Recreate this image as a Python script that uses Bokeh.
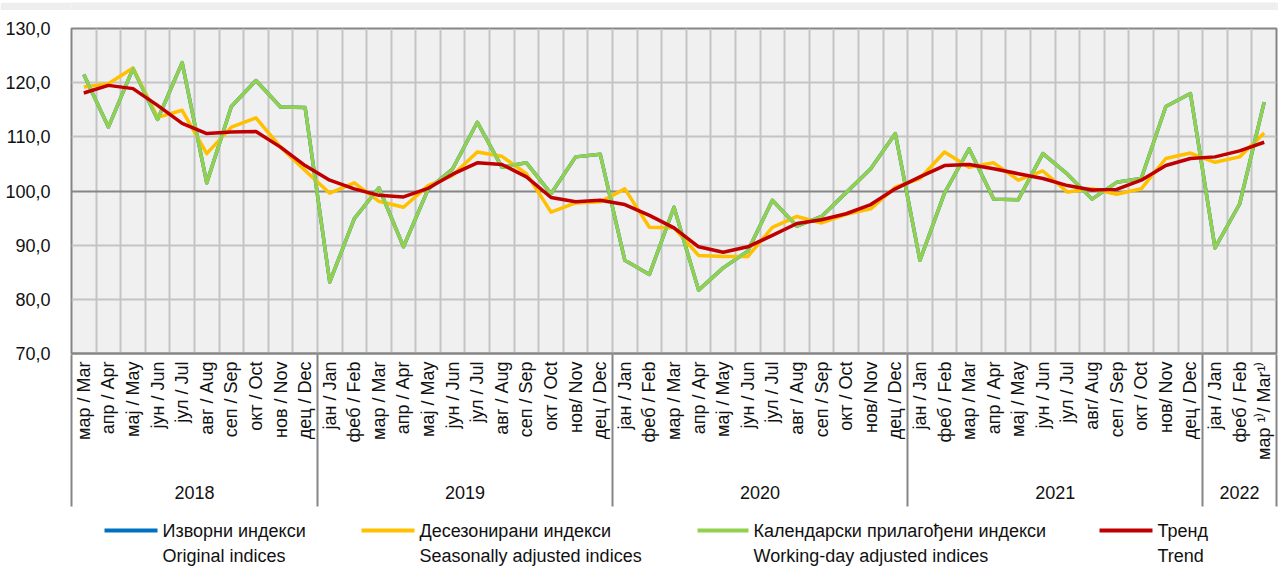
import math
from bokeh.plotting import figure
from bokeh.models import Range1d, FixedTicker, LinearAxis, Grid, ColumnDataSource
from bokeh.layouts import column
from bokeh.core.properties import value
from bokeh.embed import file_html
from bokeh.resources import INLINE

# ---------------- data ----------------
years = ["2018", "2019", "2020", "2021", "2022"]
months_per_year = [10, 12, 12, 12, 3]
month_labels = [
    "мар / Mar", "апр / Apr", "мај / May", "јун / Jun", "јул / Jul", "авг / Aug",
    "сеп / Sep", "окт / Oct", "нов / Nov", "дец / Dec",
    "јан / Jan", "феб / Feb", "мар / Mar", "апр / Apr", "мај / May", "јун / Jun",
    "јул / Jul", "авг / Aug", "сеп / Sep", "окт / Oct", "нов/ Nov", "дец / Dec",
    "јан / Jan", "феб / Feb", "мар / Mar", "апр / Apr", "мај / May", "јун / Jun",
    "јул / Jul", "авг / Aug", "сеп / Sep", "окт / Oct", "нов/ Nov", "дец / Dec",
    "јан / Jan", "феб / Feb", "мар / Mar", "апр / Apr", "мај / May", "јун / Jun",
    "јул / Jul", "авг/ Aug", "сеп / Sep", "окт / Oct", "нов/ Nov", "дец / Dec",
    "јан / Jan", "феб / Feb", "мар ¹⁾/ Mar¹⁾",
]
working_day = [
    121.5, 111.8, 122.6, 113.2, 123.7, 101.5, 115.6, 120.4, 115.5, 115.4,
    83.2, 94.9, 100.6, 89.7, 100.3, 104.1, 112.7, 104.4, 105.2, 99.5, 106.3, 106.8,
    87.2, 84.6, 97.0, 81.7, 85.8, 88.9, 98.3, 93.5, 95.3, 99.7, 104.1, 110.6,
    87.2, 99.6, 107.8, 98.5, 98.4, 106.9, 103.1, 98.5, 101.6, 102.3, 115.6, 118.0,
    89.5, 97.6, 116.4,
]
original = list(working_day)
seasonal = [
    119.2, 119.8, 122.7, 113.6, 114.9, 106.9, 111.8, 113.5, 108.1, 103.8,
    99.6, 101.5, 98.1, 97.0, 101.0, 102.9, 107.2, 106.4, 103.2, 96.1, 97.8, 98.0,
    100.4, 93.3, 93.2, 88.1, 87.9, 87.9, 93.3, 95.3, 94.1, 95.7, 96.7, 100.7,
    102.3, 107.2, 104.4, 105.2, 102.0, 103.7, 99.8, 100.4, 99.4, 100.4, 106.0, 107.0,
    105.3, 106.3, 110.7,
]
trend = [
    118.1, 119.5, 118.9, 115.8, 112.5, 110.6, 110.9, 111.0, 108.1, 104.7,
    102.0, 100.4, 99.2, 98.9, 100.5, 103.1, 105.2, 104.9, 102.6, 98.8, 98.0, 98.3,
    97.5, 95.5, 93.2, 89.7, 88.7, 89.7, 91.8, 94.0, 94.7, 95.8, 97.5, 100.4,
    102.6, 104.7, 104.9, 104.1, 103.2, 102.3, 101.0, 100.2, 100.3, 102.0, 104.7, 106.0,
    106.3, 107.4, 109.0,
]
y_ticks = [70, 80, 90, 100, 110, 120, 130]
series_names = [
    ("Изворни индекси", "Original indices"),
    ("Десезонирани индекси", "Seasonally adjusted indices"),
    ("Календарски прилагођени индекси", "Working-day adjusted indices"),
    ("Тренд", "Trend"),
]

# ---------------- styling ----------------
FONT = "Liberation Sans"
FS = "18px"
TXT = "#111111"
colors = ["#0070C0", "#FFC000", "#92D050", "#C00000"]
GRID = "#c4c4c4"
DARK = "#868686"
W = 1278
BL, BR = 71, 2

n = len(month_labels)
x = [i + 0.5 for i in range(n)]
src = ColumnDataSource(dict(x=x, original=original, seasonal=seasonal,
                            working_day=working_day, trend=trend))

# thin grey band at the very top of the page
band = figure(width=W, height=10, x_range=Range1d(0, 1), y_range=Range1d(0, 1),
              x_axis_type=None, y_axis_type=None, output_backend="svg",
              toolbar_location=None, min_border_left=BL, min_border_right=BR,
              min_border_top=0, min_border_bottom=0)
band.outline_line_color = None
band.background_fill_color = "#eeeeee"
band.border_fill_color = "#eeeeee"

p = figure(width=W, height=500, x_range=Range1d(0, n), y_range=Range1d(70, 130),
           x_axis_type=None, y_axis_type=None, output_backend="svg",
           toolbar_location=None, min_border_left=BL, min_border_right=BR,
           min_border_top=18, min_border_bottom=157)
p.background_fill_color = "#f0f0f0"
p.border_fill_color = "white"
p.outline_line_color = DARK
p.outline_line_width = 2

p.add_layout(Grid(dimension=0, ticker=FixedTicker(ticks=list(range(n + 1))),
                  grid_line_color=GRID, grid_line_width=2))
p.add_layout(Grid(dimension=1, ticker=FixedTicker(ticks=[t for t in y_ticks if t != 100]),
                  grid_line_color=GRID, grid_line_width=2))
p.add_layout(Grid(dimension=1, ticker=FixedTicker(ticks=[100]),
                  grid_line_color=DARK, grid_line_width=2))

for col, c in zip(["original", "seasonal", "working_day", "trend"], colors):
    p.line("x", col, source=src, line_color=c, line_width=3.5, line_join="round")

# y axis
yax = LinearAxis(ticker=FixedTicker(ticks=y_ticks),
                 major_label_overrides={t: f"{t},0" for t in y_ticks},
                 axis_line_color=None, major_tick_line_color=None,
                 minor_tick_line_color=None, major_label_standoff=15,
                 major_label_text_font=FONT, major_label_text_font_size=FS,
                 major_label_text_color=TXT)
p.add_layout(yax, "left")

# year boundaries
bounds = [0]
for m in months_per_year:
    bounds.append(bounds[-1] + m)
centers = [(bounds[i] + bounds[i + 1]) / 2 for i in range(len(years))]

# month axis
m_ax = LinearAxis(ticker=FixedTicker(ticks=x),
                  major_label_overrides={xx: lab for xx, lab in zip(x, month_labels)},
                  major_label_orientation=math.pi / 2,
                  major_tick_line_color=None, major_tick_out=0, major_tick_in=0,
                  minor_tick_line_color=None,
                  axis_line_color=DARK, axis_line_width=2,
                  major_label_standoff=8,
                  major_label_text_font=FONT, major_label_text_font_size=FS,
                  major_label_text_color=TXT)
p.add_layout(m_ax, "below")

# year axis
yr_ax = LinearAxis(ticker=FixedTicker(ticks=centers),
                   major_label_overrides={c: y for c, y in zip(centers, years)},
                   major_tick_line_color=None, major_tick_out=0, major_tick_in=0,
                   minor_tick_line_color=None, axis_line_color=None,
                   major_label_standoff=23,
                   major_label_text_font=FONT, major_label_text_font_size=FS,
                   major_label_text_color=TXT)
p.add_layout(yr_ax, "below")

# year separators (ticks pointing up toward the frame)
sep_ax = LinearAxis(ticker=FixedTicker(ticks=bounds),
                    major_label_overrides={b: "" for b in bounds},
                    major_label_text_font_size="0px", major_label_standoff=0,
                    major_tick_out=5, major_tick_in=147,
                    major_tick_line_color=DARK, major_tick_line_width=2,
                    minor_tick_line_color=None, axis_line_color=None)
p.add_layout(sep_ax, "below")

# ---------------- legend ----------------
LH = 64
leg = figure(width=W, height=LH, x_range=Range1d(BL, W - BR), y_range=Range1d(LH, 0),
             x_axis_type=None, y_axis_type=None, output_backend="svg",
             toolbar_location=None, min_border_left=BL, min_border_right=BR,
             min_border_top=0, min_border_bottom=0)
leg.outline_line_color = None
leg.background_fill_color = "white"
leg.border_fill_color = "white"
leg_x = [(104, 157), (361, 414), (697, 748), (1099, 1152)]
for (x0, x1), c, (l1, l2) in zip(leg_x, colors, series_names):
    leg.line([x0, x1], [20, 20], line_color=c, line_width=4)
    leg.text([x1 + 5, x1 + 5], [20, 45], text=[l1, l2], text_font=value(FONT),
             text_font_size=FS, text_baseline="middle", text_align="left",
             text_color=TXT)

layout = column(band, p, leg, spacing=0)
open("out.html", "w").write(file_html(layout, INLINE))
